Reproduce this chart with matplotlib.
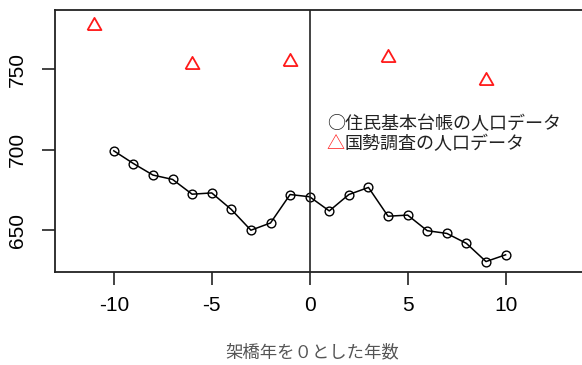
import matplotlib
matplotlib.use("Agg")
import matplotlib.pyplot as plt

# 住民基本台帳の人口データ (架橋年を0とした年数)
years = [-10, -9, -8, -7, -6, -5, -4, -3, -2, -1, 0,
         1, 2, 3, 4, 5, 6, 7, 8, 9, 10]
pop_jumin = [699.4, 691.5, 684.3, 681.6, 672.4, 673.2, 662.9, 650.0, 654.5, 672.2, 670.8,
             662.0, 672.2, 676.6, 658.7, 659.4, 649.7, 648.0, 641.8, 630.5, 634.7]

# 国勢調査の人口データ
census_years = [-11, -6, -1, 4, 9]
pop_census = [778.4, 754.2, 756.0, 758.1, 744.2]

xticks = [-10, -5, 0, 5, 10]
yticks = [650, 700, 750]

jp = ["Noto Sans CJK JP", "DejaVu Sans"]
num_font = "Liberation Sans"

fig = plt.figure(figsize=(5.82, 3.65), dpi=100)
ax = fig.add_axes([55 / 582, 1 - 272 / 365, 1 - 55 / 582, (272 - 10) / 365])

ax.plot(years, pop_jumin, color="black", lw=1.1, marker="o", ms=6.3,
        mfc="none", mec="black", mew=1.0)
tri = [(-1, -0.8), (1, -0.8), (0, 0.95), (-1, -0.8)]
ax.plot(census_years, pop_census, ls="none", marker=tri, ms=10,
        mfc="none", mec="#ff1a1a", mew=1.3)
ax.axvline(0, color="#222222", lw=1.2)

ax.set_xlim(-13.0, 13.9)
ax.set_ylim(624, 787)
ax.set_xticks(xticks)
ax.set_yticks(yticks)
ax.set_xticklabels([str(v) for v in xticks], fontname=num_font, fontsize=15)
ax.set_yticklabels([str(v) for v in yticks], fontname=num_font, fontsize=15,
                   rotation=90, va="center")
ax.tick_params(axis="x", length=9.5, width=1.2, color="#222222", pad=8)
ax.tick_params(axis="y", length=9.5, width=1.2, color="#222222", pad=11)
for side in ["left", "bottom", "top"]:
    ax.spines[side].set_linewidth(1.3)
    ax.spines[side].set_color("#222222")
ax.spines["right"].set_visible(False)

# 凡例 (テキストで描く)
lx = 0.87
fs = 13
ax.text(lx, 715.8, "○住民基本台帳の人口データ", family=jp, fontsize=fs,
        color="#222222", va="center", ha="left")
ax.text(lx, 703.3, "△", family=jp, fontsize=fs, color="#ff1a1a",
        va="center", ha="left")
ax.annotate("国勢調査の人口データ", xy=(lx, 703.3), xytext=(fs, 0),
            textcoords="offset points", family=jp, fontsize=fs,
            color="#222222", va="center", ha="left")

fig.text(312 / 582, 1 - 352 / 365, "架橋年を０とした年数", family=jp,
         fontsize=12.5, color="#555555", ha="center", va="center")

fig.savefig("out.png", dpi=100)
